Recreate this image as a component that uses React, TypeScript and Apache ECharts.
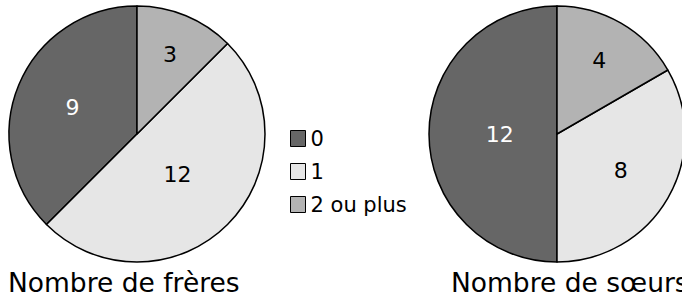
import React, { useEffect, useRef } from "react";
import * as echarts from "echarts";

const categories = ["0", "1", "2 ou plus"];
const freres = [9, 12, 3];
const soeurs = [12, 8, 4];
const colors = ["#666666", "#e6e6e6", "#b3b3b3"];
const labelColors = ["#ffffff", "#000000", "#000000"];
const titles = ["Nombre de frères", "Nombre de sœurs"];

const FONT = "DejaVu Sans";
const RADIUS = 128;

// label placed at the centroid of each sector (computed from the data)
function makeData(values: number[]) {
  const total = values.reduce((a, b) => a + b, 0);
  let cum = 0;
  return values.map((v, i) => {
    const frac = v / total;
    const theta = frac * 2 * Math.PI;
    const mid = Math.PI / 2 + 2 * Math.PI * (cum + v / 2) / total;
    cum += v;
    const d = (4 * RADIUS * Math.sin(theta / 2)) / (3 * theta);
    const shift = d - RADIUS / 2;
    return {
      name: categories[i],
      value: v,
      itemStyle: { color: colors[i] },
      label: {
        color: labelColors[i],
        offset: [shift * Math.cos(mid), -shift * Math.sin(mid)],
      },
    };
  });
}

function makeSeries(values: number[], center: [number, number]) {
  return {
    type: "pie",
    center,
    radius: RADIUS,
    startAngle: 90,
    clockwise: false,
    avoidLabelOverlap: false,
    label: {
      show: true,
      position: "inside",
      formatter: "{c}",
      fontFamily: FONT,
      fontSize: 22,
    },
    labelLine: { show: false },
    emphasis: { disabled: true },
    itemStyle: { borderColor: "#000", borderWidth: 1.5 },
    data: makeData(values),
  };
}

export default function App() {
  const ref = useRef<HTMLDivElement>(null);
  useEffect(() => {
    if (!ref.current) return;
    const chart = echarts.init(ref.current, undefined, { renderer: "svg" });
    const titleStyle = { fontFamily: FONT, fontSize: 26.5, fontWeight: "normal", color: "#000" };
    chart.setOption({
      animation: false,
      backgroundColor: "#ffffff",
      title: [
        { text: titles[0], left: 8, top: 269, padding: 0, textStyle: titleStyle },
        { text: titles[1], left: 451, top: 269, padding: 0, textStyle: titleStyle },
      ],
      legend: {
        orient: "vertical",
        left: 290,
        top: 128,
        padding: 0,
        itemWidth: 15,
        itemHeight: 16,
        itemGap: 12,
        icon: "rect",
        selectedMode: false,
        data: categories,
        itemStyle: { borderColor: "#000", borderWidth: 1 },
        textStyle: {
          fontFamily: FONT,
          fontSize: 21,
          color: "#000",
        },
      },
      series: [makeSeries(freres, [137, 134]), makeSeries(soeurs, [557, 134])],
    });
    return () => chart.dispose();
  }, []);
  return (
    <div
      ref={ref}
      style={{ position: "fixed", left: 0, top: 0, width: 682, height: 298 }}
    />
  );
}
